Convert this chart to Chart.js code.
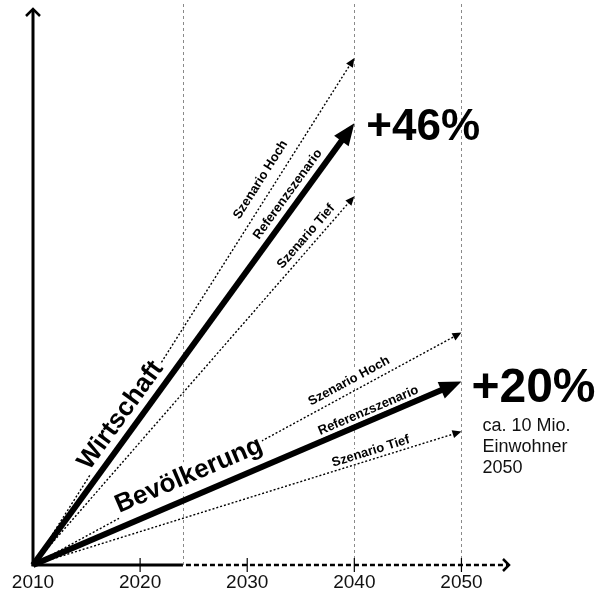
<!DOCTYPE html>
<html>
<head>
<meta charset="utf-8">
<script src="https://cdn.jsdelivr.net/npm/chart.js@4"></script>
<style>
  html, body { margin: 0; padding: 0; background: #fff; }
  #wrap { width: 596px; height: 598px; }
</style>
</head>
<body>
<div id="wrap"><canvas id="chart"></canvas></div>
<script>
// values (y = growth in %, schematic)
const years = [2010, 2020, 2030, 2040, 2050];
const markerYears = [2024, 2040, 2050];
const todayYear = 2024;
const wirtschaftYears = [2010, 2040];
const bevoelkerungYears = [2010, 2050];
const wirtschaftHoch = [0, 52.8];
const wirtschaftRef = [0, 46];
const wirtschaftTief = [0, 38.4];
const bevoelkerungHoch = [0, 24.2];
const bevoelkerungRef = [0, 19.1];
const bevoelkerungTief = [0, 13.9];
const scenarioNames = ['Szenario Hoch', 'Referenzszenario', 'Szenario Tief'];
const groupNames = ['Wirtschaft', 'Bevölkerung'];
const growthLabels = ['+46%', '+20%'];
const noteLines = ['ca. 10 Mio.', 'Einwohner', '2050'];

const FONT = '"Liberation Sans", Arial, sans-serif';

function toPoints(xs, ys) {
  return xs.map((x, i) => ({ x: x, y: ys[i] }));
}

function makeSet(label, xs, ys, thick) {
  return {
    label: label,
    data: toPoints(xs, ys),
    borderColor: '#000',
    borderWidth: thick ? 6 : 1.4,
    borderDash: thick ? [] : [2, 2],
    pointRadius: 0,
    fill: false,
    tension: 0,
    clip: false,
    thick: thick
  };
}

const datasets = [
  makeSet(scenarioNames[0], wirtschaftYears, wirtschaftHoch, false),
  makeSet(scenarioNames[1], wirtschaftYears, wirtschaftRef, true),
  makeSet(scenarioNames[2], wirtschaftYears, wirtschaftTief, false),
  makeSet(scenarioNames[0], bevoelkerungYears, bevoelkerungHoch, false),
  makeSet(scenarioNames[1], bevoelkerungYears, bevoelkerungRef, true),
  makeSet(scenarioNames[2], bevoelkerungYears, bevoelkerungTief, false)
];

// where the texts sit along each arrow (t = fraction of length, off = px above)
const lineLabels = [
  { ds: 0, text: scenarioNames[0], t: 0.745, off: 14, size: 13 },
  { ds: 1, text: scenarioNames[1], t: 0.823, off: 12, size: 13 },
  { ds: 2, text: scenarioNames[2], t: 0.873, off: 10, size: 13 },
  { ds: 3, text: scenarioNames[0], t: 0.75, off: 11, size: 13 },
  { ds: 4, text: scenarioNames[1], t: 0.792, off: 10, size: 13 },
  { ds: 5, text: scenarioNames[2], t: 0.794, off: 8, size: 13 },
  { ds: 1, text: groupNames[0], t: 0.316, off: 17, size: 26 },
  { ds: 4, text: groupNames[1], t: 0.383, off: 21, size: 26 }
];

function ends(chart, i) {
  const pts = chart.getDatasetMeta(i).data;
  const a = pts[0], b = pts[pts.length - 1];
  const dx = b.x - a.x, dy = b.y - a.y;
  const len = Math.sqrt(dx * dx + dy * dy);
  return { a: a, b: b, len: len, dx: dx / len, dy: dy / len };
}

function headSize(ds) {
  return ds.thick ? { l: 22, w: 9 } : { l: 9, w: 4 };
}

const arrowPlugin = {
  id: 'arrows',
  beforeDatasetsDraw(chart) {
    const ctx = chart.ctx;
    const xs = chart.scales.x, ys = chart.scales.y;
    const x0 = xs.getPixelForValue(years[0]);
    const y0 = ys.getPixelForValue(0);
    ctx.save();
    // vertical marker lines
    ctx.strokeStyle = '#8a8a8a';
    ctx.lineWidth = 1;
    ctx.setLineDash([3, 3]);
    markerYears.forEach(yr => {
      const x = Math.round(xs.getPixelForValue(yr)) + 0.5;
      ctx.beginPath();
      ctx.moveTo(x, 4);
      ctx.lineTo(x, y0);
      ctx.stroke();
    });
    ctx.setLineDash([]);
    ctx.strokeStyle = '#000';
    // y axis
    ctx.lineWidth = 3;
    ctx.beginPath();
    ctx.moveTo(x0, y0 + 1);
    ctx.lineTo(x0, 9);
    ctx.stroke();
    ctx.lineWidth = 2.5;
    ctx.beginPath();
    ctx.moveTo(x0 - 7, 16);
    ctx.lineTo(x0, 9);
    ctx.lineTo(x0 + 7, 16);
    ctx.stroke();
    // x axis: solid until today, dashed afterwards
    const xt = xs.getPixelForValue(todayYear);
    const xe = xs.right - 6;
    ctx.lineWidth = 3;
    ctx.beginPath();
    ctx.moveTo(x0 - 1.5, y0);
    ctx.lineTo(xt, y0);
    ctx.stroke();
    ctx.lineWidth = 2.5;
    ctx.setLineDash([5, 3]);
    ctx.beginPath();
    ctx.moveTo(xt + 3, y0);
    ctx.lineTo(xe - 2, y0);
    ctx.stroke();
    ctx.setLineDash([]);
    ctx.beginPath();
    ctx.moveTo(xe - 6, y0 - 6);
    ctx.lineTo(xe, y0);
    ctx.lineTo(xe - 6, y0 + 6);
    ctx.stroke();
    // tick marks
    ctx.lineWidth = 1.2;
    years.slice(1).forEach(yr => {
      const x = xs.getPixelForValue(yr);
      ctx.beginPath();
      ctx.moveTo(x, y0 - 7);
      ctx.lineTo(x, y0 + 7);
      ctx.stroke();
    });
    ctx.restore();
  },
  beforeDatasetDraw(chart, args) {
    const ds = chart.data.datasets[args.index];
    const e = ends(chart, args.index);
    const h = headSize(ds);
    // clip the line so it stops where the arrow head begins
    const bx = e.b.x - e.dx * (h.l - 1), by = e.b.y - e.dy * (h.l - 1);
    const nx = -e.dy, ny = e.dx;
    const ctx = chart.ctx;
    ctx.save();
    ctx.beginPath();
    ctx.moveTo(bx + nx * 1000, by + ny * 1000);
    ctx.lineTo(bx - nx * 1000, by - ny * 1000);
    ctx.lineTo(bx - nx * 1000 - e.dx * 3000, by - ny * 1000 - e.dy * 3000);
    ctx.lineTo(bx + nx * 1000 - e.dx * 3000, by + ny * 1000 - e.dy * 3000);
    ctx.closePath();
    ctx.clip();
  },
  afterDatasetDraw(chart, args) {
    const ctx = chart.ctx;
    ctx.restore();
    const ds = chart.data.datasets[args.index];
    const e = ends(chart, args.index);
    const h = headSize(ds);
    const bx = e.b.x - e.dx * h.l, by = e.b.y - e.dy * h.l;
    const nx = -e.dy, ny = e.dx;
    ctx.save();
    ctx.fillStyle = '#000';
    ctx.beginPath();
    ctx.moveTo(e.b.x, e.b.y);
    ctx.lineTo(bx + nx * h.w, by + ny * h.w);
    ctx.lineTo(bx - nx * h.w, by - ny * h.w);
    ctx.closePath();
    ctx.fill();
    ctx.restore();
  },
  afterDatasetsDraw(chart) {
    const ctx = chart.ctx;
    ctx.save();
    lineLabels.forEach(lb => {
      const e = ends(chart, lb.ds);
      const px = e.a.x + (e.b.x - e.a.x) * lb.t;
      const py = e.a.y + (e.b.y - e.a.y) * lb.t;
      // normal pointing up-left of the arrow
      const nx = e.dy, ny = -e.dx;
      const cx = px + nx * lb.off, cy = py + ny * lb.off;
      ctx.save();
      ctx.translate(cx, cy);
      ctx.rotate(Math.atan2(e.dy, e.dx));
      ctx.font = 'bold ' + lb.size + 'px ' + FONT;
      const w = ctx.measureText(lb.text).width;
      ctx.fillStyle = '#fff';
      ctx.fillRect(-w / 2 - 2, -lb.size * 0.55, w + 4, lb.size * 1.05);
      ctx.fillStyle = '#000';
      ctx.textAlign = 'center';
      ctx.textBaseline = 'middle';
      ctx.fillText(lb.text, 0, 0);
      ctx.restore();
    });
    // growth figures next to the reference arrows
    const w = ends(chart, 1).b, b = ends(chart, 4).b;
    ctx.fillStyle = '#000';
    ctx.textAlign = 'left';
    ctx.textBaseline = 'alphabetic';
    ctx.font = 'bold 44px ' + FONT;
    ctx.fillText(growthLabels[0], w.x + 12, w.y + 17);
    ctx.font = 'bold 48px ' + FONT;
    ctx.fillText(growthLabels[1], b.x + 10, b.y + 20);
    ctx.font = '18px ' + FONT;
    ctx.fillStyle = '#111';
    noteLines.forEach((s, i) => {
      ctx.fillText(s, b.x + 21, b.y + 49 + i * 21);
    });
    ctx.restore();
  }
};

new Chart(document.getElementById('chart').getContext('2d'), {
  type: 'line',
  data: { datasets: datasets },
  options: {
    responsive: true,
    maintainAspectRatio: false,
    animation: false,
    events: [],
    layout: { padding: { left: 33, right: 81, top: 8, bottom: 0 } },
    plugins: { legend: { display: false }, tooltip: { enabled: false } },
    scales: {
      x: {
        type: 'linear',
        min: 2010,
        max: 2055,
        grid: { display: false },
        border: { display: false },
        afterBuildTicks: scale => { scale.ticks = years.map(v => ({ value: v })); },
        afterFit: scale => { scale.height = 33; },
        ticks: {
          padding: -2,
          autoSkip: false,
          maxRotation: 0,
          color: '#111',
          font: { family: FONT, size: 19 },
          callback: v => String(v)
        }
      },
      y: {
        type: 'linear',
        display: false,
        min: 0,
        max: 58
      }
    }
  },
  plugins: [arrowPlugin]
});
</script>
</body>
</html>
